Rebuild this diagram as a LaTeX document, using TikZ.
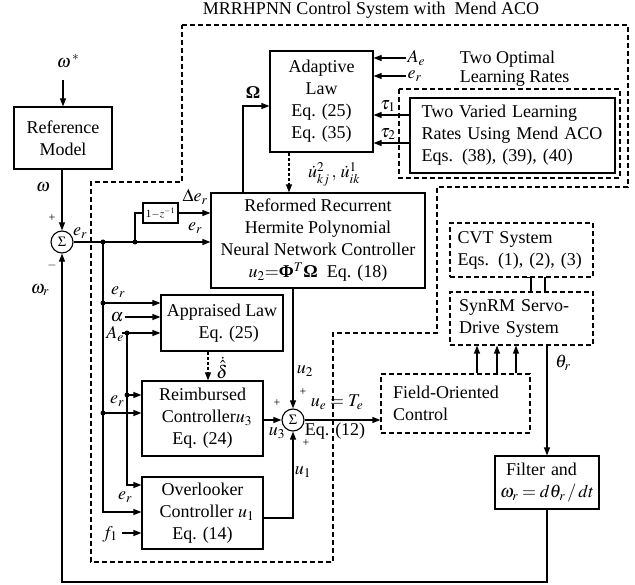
\documentclass[tikz,border=0pt]{standalone}
\usepackage{amsmath}
\usepackage{mathptmx}
\usepackage{fontspec}
\setmainfont{Liberation Serif}
\usetikzlibrary{arrows.meta}

\begin{document}
\begin{tikzpicture}[x=1pt,y=-1pt,line width=1.1pt,font=\fontsize{18}{22}\selectfont,
  blk/.style={draw,align=center,inner sep=2pt},
  dblk/.style={draw,dash pattern=on 5pt off 3pt,align=left,inner sep=2pt},
  sumnode/.style={draw,circle,minimum size=22pt,inner sep=0pt,font=\fontsize{14}{14}\selectfont},
  sgn/.style={font=\fontsize{12}{12}\selectfont,inner sep=0pt},
  arr/.style={-{Triangle[length=8pt,width=6pt]}},
  darr/.style={arr,dash pattern=on 3pt off 2pt},
  jdot/.style={circle,fill,inner sep=0pt,minimum size=5pt}]
  \useasboundingbox (0,0) rectangle (635,585);

  \node at (371,10) {MRRHPNN Control System with\ \ Mend ACO};
  % controller boundary
  \draw[dash pattern=on 5pt off 3pt] (182,25) -- (628,25) -- (628,187) -- (437,187) -- (437,333)
    -- (333,333) -- (333,562) -- (91,562) -- (91,182) -- (182,182) -- cycle;
  \draw[dash pattern=on 5pt off 3pt] (399,89) rectangle (620,178);

  % blocks
  \node[blk,minimum width=98pt,minimum height=62pt] (ref) at (63,138) {Reference\\Model};
  \node[sumnode] (s1) at (62,242) {$\Sigma$};
  \node[blk,minimum width=35pt,minimum height=20pt,inner sep=1pt,font=\fontsize{11}{12}\selectfont] (zbox) at (160.5,213) {1$-z^{-1}$};
  \node[blk,minimum width=214pt,minimum height=95pt] (nn) at (318,240.5)
    {Reformed Recurrent\\Hermite Polynomial\\Neural Network Controller\\$u_2{=}$\textbf{Φ}$^{T}$\textbf{Ω}\ \ Eq. (18)};
  \node[blk,minimum width=103pt,minimum height=101pt] (adapt) at (321.5,101.5) {Adaptive\\Law\\Eq. (25)\\Eq. (35)};
  \node[blk,minimum width=205pt,minimum height=75pt,text width=182pt,align=left] (rates) at (512.5,135.5)
    {Two Varied Learning\\Rates Using Mend ACO\\Eqs. (38), (39), (40)};
  \node[align=left,anchor=west] (opt) at (456,69) {Two Optimal\\[-3pt]Learning Rates};
  \node[blk,minimum width=122pt,minimum height=56pt] (appr) at (222,323) {Appraised Law\\\ \ \ Eq. (25)};
  \node[blk,minimum width=121pt,minimum height=75pt] (reimb) at (202.5,418.5) {Reimbursed\\\ \ Controller$u_3$\\Eq. (24)};
  \node[blk,minimum width=121pt,minimum height=72pt] (over) at (202.5,513) {Overlooker\\\ \ Controller $u_1$\\Eq. (14)};
  \node[sumnode] (s2) at (293,420) {$\Sigma$};
  \node[dblk,minimum width=149pt,minimum height=59pt,text width=125pt] (foc) at (455.5,403.5) {Field-Oriented\\Control};
  \node[dblk,minimum width=143pt,minimum height=54pt,text width=128pt] (cvt) at (521.5,250) {CVT System\\Eqs. (1), (2), (3)};
  \node[dblk,minimum width=143pt,minimum height=53pt,text width=125pt] (synrm) at (521.5,318.5) {SynRM Servo-\\Drive System};
  \node[blk,minimum width=104pt,minimum height=53pt,text width=94pt,align=left] (filt) at (547,482.5)
    {\ Filter and\\$\omega_r=d\theta_r\,/\,dt$};

  % reference path and tracking error
  \coordinate (wst) at (63,80);
  \node (wlab) at (68,61) {$\omega^{\,*}$};
  \draw[arr] (wst) -- (ref.south |- wst) -- (ref.north -| wst);
  \draw[arr] (ref.south -| s1) -- (s1.north);
  \node at (43,187) {$\omega$};
  \node[sgn] at (52,218) {+};
  \node[sgn] at (52,266) {$-$};
  \node at (80,233) {$e_r$};
  \coordinate (d1) at (103,242);
  \coordinate (d2) at (135,242);
  \draw[arr] (s1.east) -- (s1 -| nn.west);
  \draw (d2) |- (zbox.west);
  \draw[arr] (zbox.east) -- (zbox.east -| nn.west);
  \node at (195,197) {$\Delta e_r$};
  \node at (195,228) {$e_r$};

  % adaptive law loop
  \draw[arr] (nn.north -| 243,0) |- (adapt.west |- 0,106);
  \node at (253,93) {\textbf{Ω}};
  \draw[darr] (adapt.south -| 289,0) -- (nn.north -| 289,0);
  \node at (334,174) {$\dot{u}_{kj}^{2}\,,\,\dot{u}_{ik}^{1}$};
  \coordinate (ae) at (406,58);
  \coordinate (er) at (406,76);
  \draw[arr] (ae) -- (ae -| adapt.east);
  \draw[arr] (er) -- (er -| adapt.east);
  \node[right,inner sep=1pt] at (ae) {$A_e$};
  \node[right,inner sep=1pt] at (er) {$e_r$};
  \draw[arr] (rates.west |- 0,115) -- (adapt.east |- 0,115);
  \draw[arr] (rates.west |- 0,143) -- (adapt.east |- 0,143);
  \node at (388,106) {$\tau_1$};
  \node at (388,134) {$\tau_2$};

  % inputs of the lower blocks
  \coordinate (d3) at (103,303);
  \coordinate (d4) at (127,333);
  \coordinate (d5) at (127,395);
  \coordinate (d6) at (103,413);
  \draw[arr] (d1) |- (over.west |- 0,512);
  \draw[arr] (d3) -- (d3 -| appr.west);
  \draw[arr] (125,317) -- (appr.west |- 0,317);
  \draw[arr] (122,333) -- (appr.west |- 0,333);
  \draw[arr] (d4) |- (over.west |- 0,485);
  \draw[arr] (d5) -- (d5 -| reimb.west);
  \draw[arr] (d6) -- (d6 -| reimb.west);
  \draw[arr] (122,533) -- (over.west |- 0,533);
  \foreach \p in {d1,d2,d3,d4,d5,d6}{\node[jdot] at (\p) {};}
  \node at (118,292) {$e_r$};
  \node at (117,317) {$\alpha$};
  \node at (115,334) {$A_e$};
  \node at (117,401) {$e_r$};
  \node at (125,497) {$e_r$};
  \node at (110,534) {$f_1$};
  \draw[darr] (appr.south -| 208,0) -- (reimb.north -| 208,0);
  \node at (222,368) {$\dot{\hat{\delta}}$};

  % control effort
  \draw[arr] (nn.south -| s2) -- (s2.north);
  \draw[arr] (reimb.east |- s2) -- (s2.west);
  \draw[arr] (over.east |- 0,518) -| (s2.south);
  \node at (305,371) {$u_2$};
  \node[sgn] at (303,392) {+};
  \node[sgn] at (277,403) {+};
  \node at (277,433) {$u_3$};
  \node[sgn] at (306,443) {+};
  \node at (303,472) {$u_1$};
  \draw[arr] (s2.east) -- (s2 -| foc.west);
  \node at (337,402) {$u_e = T_e$};
  \node at (335,431) {Eq. (12)};

  % drive, plant and speed feedback
  \foreach \x in {477,497,516}{\draw[arr] (foc.north -| \x,0) -- (synrm.south -| \x,0);}
  \draw (cvt.south -| 525,0) -| (synrm.north -| 531,0);
  \draw (synrm.north -| 545,0) |- (cvt.south -| 551,0);
  \draw[arr] (synrm.south -| filt.north) -- (filt.north);
  \node at (563,363) {$\theta_r$};
  \draw[arr] (filt.south) -- (filt.south |- 0,582) -| (s1.south);
  \node at (40,290) {$\omega_r$};
\end{tikzpicture}
\end{document}
